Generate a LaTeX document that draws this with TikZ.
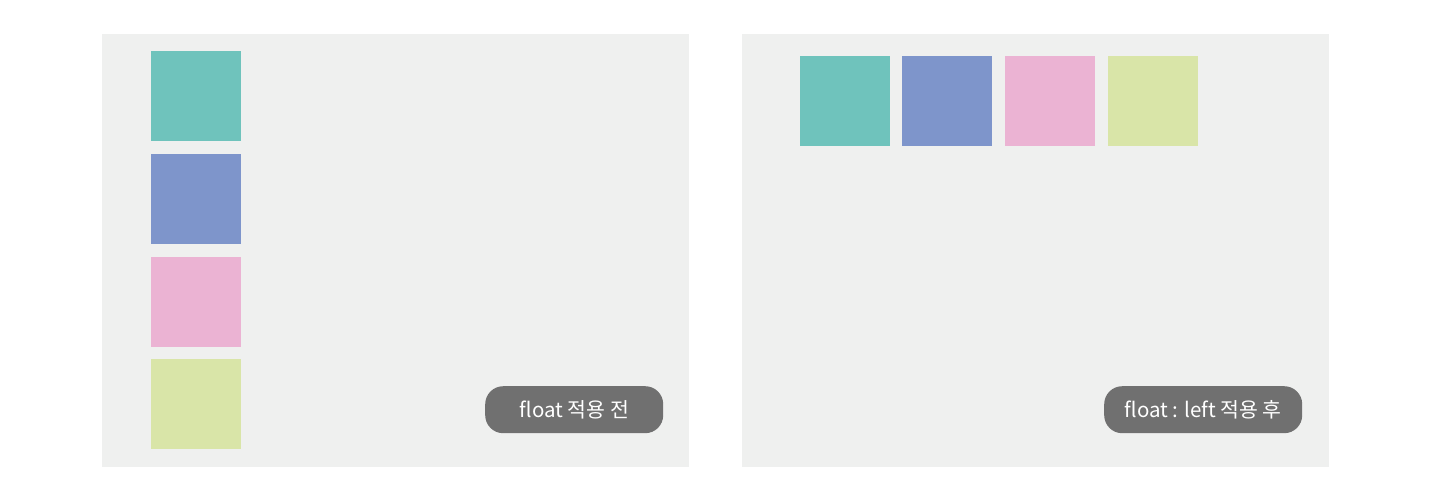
\documentclass[tikz,border=0pt]{standalone}
\usepackage{fontspec}
\newfontfamily\kr{Noto Sans CJK KR}
\definecolor{panel}{HTML}{EFF0EF}
\definecolor{cteal}{HTML}{6FC3BC}
\definecolor{cblue}{HTML}{7E95CB}
\definecolor{cpink}{HTML}{EBB3D3}
\definecolor{cgreen}{HTML}{D9E5A8}
\definecolor{pill}{HTML}{707070}
\tikzset{
  panelbox/.style={fill=panel, draw=none},
  sq/.style={minimum width=90pt, minimum height=90pt, inner sep=0pt, draw=none, anchor=north west},
  pillbox/.style={fill=pill, rounded corners=18pt, text=white, font=\kr\fontsize{20.5}{24}\selectfont, minimum height=47pt, inner sep=0pt, anchor=north west},
}
\begin{document}
\begin{tikzpicture}[x=1pt,y=-1pt]
\useasboundingbox (0,0) rectangle (1445,482);
\fill[white] (0,0) rectangle (1445,482);
\fill[panelbox] (102,34) rectangle (689,467);
\fill[panelbox] (742,34) rectangle (1329,467);
% left
\node[sq, fill=cteal] (l1) at (151,51) {};
\node[sq, fill=cblue] (l2) at (151,154) {};
\node[sq, fill=cpink] (l3) at (151,257) {};
\node[sq, fill=cgreen] (l4) at (151,359) {};
% right
\node[sq, fill=cteal] (r1) at (800,56) {};
\node[sq, fill=cblue] (r2) at (902,56) {};
\node[sq, fill=cpink] (r3) at (1005,56) {};
\node[sq, fill=cgreen] (r4) at (1108,56) {};
% labels
\node[pillbox, minimum width=178pt] (lp) at (485,386) {float 적용 전};
\node[pillbox, minimum width=198pt] (rp) at (1104,386) {float : left 적용 후};
\end{tikzpicture}
\end{document}
